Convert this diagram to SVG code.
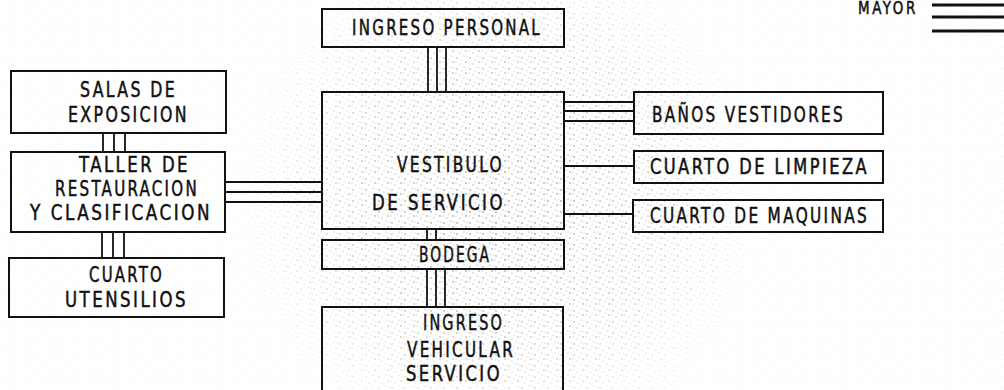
<svg xmlns="http://www.w3.org/2000/svg" width="1004" height="390" viewBox="0 0 1004 390">
<style>
.box{fill:none;stroke:#111;stroke-width:2}
.c line{stroke:#111;stroke-width:1.8}
.lg{stroke:#111;stroke-width:3}
text{font-family:"DejaVu Sans Condensed","DejaVu Sans",sans-serif;font-size:22px;letter-spacing:3px;fill:#111;stroke:#111;stroke-width:0.5;text-anchor:start}
</style>
<defs>
<pattern id="stip" width="13" height="11" patternUnits="userSpaceOnUse">
<circle cx="2" cy="3" r="0.7" fill="#444"/>
<circle cx="9" cy="1" r="0.6" fill="#666"/>
<circle cx="11" cy="7" r="0.7" fill="#444"/>
<circle cx="5" cy="9" r="0.6" fill="#555"/>
<circle cx="7" cy="5" r="0.5" fill="#777"/>
<circle cx="12" cy="2" r="0.5" fill="#777"/>
<circle cx="1" cy="7" r="0.5" fill="#666"/>
</pattern>
<radialGradient id="fade" cx="500" cy="200" r="260" gradientUnits="userSpaceOnUse">
<stop offset="0" stop-color="#fff" stop-opacity="0.9"/>
<stop offset="0.6" stop-color="#fff" stop-opacity="0.55"/>
<stop offset="1" stop-color="#fff" stop-opacity="0.08"/>
</radialGradient>
<mask id="m"><rect width="1004" height="390" fill="url(#fade)"/></mask>
</defs>
<rect width="1004" height="390" fill="#fff"/>
<rect width="1004" height="390" fill="url(#stip)" mask="url(#m)"/>

<g class="c" id="connectors">
<line x1="103" y1="133" x2="103" y2="152"/><line x1="114" y1="133" x2="114" y2="152"/><line x1="125" y1="133" x2="125" y2="152"/>
<line x1="102" y1="232" x2="102" y2="258"/><line x1="113" y1="232" x2="113" y2="258"/><line x1="124" y1="232" x2="124" y2="258"/>
<line x1="225" y1="182" x2="322" y2="182"/><line x1="225" y1="192" x2="322" y2="192"/><line x1="225" y1="202" x2="322" y2="202"/>
<line x1="428" y1="47" x2="428" y2="92"/><line x1="437" y1="47" x2="437" y2="92"/><line x1="446" y1="47" x2="446" y2="92"/>
<line x1="564" y1="102" x2="634" y2="102"/><line x1="564" y1="111" x2="634" y2="111"/><line x1="564" y1="121" x2="634" y2="121"/>
<line x1="564" y1="166" x2="634" y2="166"/>
<line x1="564" y1="214" x2="633" y2="214"/>
<line x1="427" y1="229" x2="427" y2="240"/><line x1="436" y1="229" x2="436" y2="240"/>
<line x1="427" y1="269" x2="427" y2="307"/><line x1="436" y1="269" x2="436" y2="307"/><line x1="445" y1="269" x2="445" y2="307"/>
</g>

<g id="salas"><rect class="box" x="11" y="71" width="215" height="62"/>
<text x="80" y="97" textLength="97" lengthAdjust="spacingAndGlyphs">SALAS DE</text>
<text x="68" y="122" textLength="121" lengthAdjust="spacingAndGlyphs">EXPOSICION</text></g>

<g id="taller"><rect class="box" x="11" y="152" width="214" height="80"/>
<text x="79" y="172" textLength="111" lengthAdjust="spacingAndGlyphs">TALLER DE</text>
<text x="55" y="196" textLength="144" lengthAdjust="spacingAndGlyphs">RESTAURACION</text>
<text x="30" y="220" textLength="182" lengthAdjust="spacingAndGlyphs">Y CLASIFICACION</text></g>

<g id="cuarto-utensilios"><rect class="box" x="9" y="258" width="215" height="59"/>
<text x="89" y="282" textLength="75" lengthAdjust="spacingAndGlyphs">CUARTO</text>
<text x="65" y="307" textLength="123" lengthAdjust="spacingAndGlyphs">UTENSILIOS</text></g>

<g id="ingreso-personal"><rect class="box" x="322" y="9" width="242" height="38"/>
<text x="352" y="35" textLength="190" lengthAdjust="spacingAndGlyphs">INGRESO PERSONAL</text></g>

<g id="vestibulo"><rect class="box" x="322" y="92" width="242" height="137"/>
<text x="397" y="172" textLength="107" lengthAdjust="spacingAndGlyphs">VESTIBULO</text>
<text x="372" y="210" textLength="133" lengthAdjust="spacingAndGlyphs">DE SERVICIO</text></g>

<g id="bodega"><rect class="box" x="322" y="240" width="242" height="29"/>
<text x="419" y="262" textLength="72" lengthAdjust="spacingAndGlyphs">BODEGA</text></g>

<g id="ingreso-vehicular"><rect class="box" x="322" y="307" width="241" height="100"/>
<text x="423" y="330" textLength="81" lengthAdjust="spacingAndGlyphs">INGRESO</text>
<text x="407" y="357" textLength="108" lengthAdjust="spacingAndGlyphs">VEHICULAR</text>
<text x="406" y="381" textLength="96" lengthAdjust="spacingAndGlyphs">SERVICIO</text></g>

<g id="banos"><rect class="box" x="634" y="92" width="249" height="42"/>
<text x="652" y="122" textLength="193" lengthAdjust="spacingAndGlyphs">BAÑOS VESTIDORES</text></g>

<g id="limpieza"><rect class="box" x="634" y="151" width="249" height="32"/>
<text x="650" y="174" textLength="219" lengthAdjust="spacingAndGlyphs">CUARTO DE LIMPIEZA</text></g>

<g id="maquinas"><rect class="box" x="633" y="200" width="250" height="32"/>
<text x="650" y="223" textLength="219" lengthAdjust="spacingAndGlyphs">CUARTO DE MAQUINAS</text></g>

<g id="legend">
<text x="858" y="14" textLength="60" lengthAdjust="spacingAndGlyphs" style="font-size:17px;letter-spacing:3px">MAYOR</text>
<line class="lg" x1="932" y1="5" x2="1004" y2="5"/>
<line class="lg" x1="932" y1="17" x2="1004" y2="17"/>
<line class="lg" x1="932" y1="31" x2="1004" y2="31"/>
</g>
</svg>
